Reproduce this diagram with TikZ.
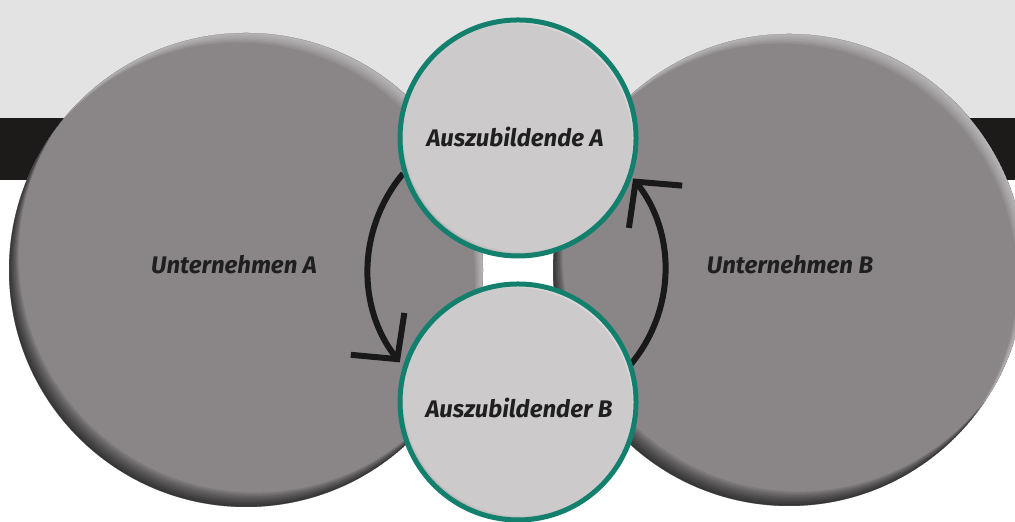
\documentclass[tikz,border=0pt]{standalone}
\usepackage{fontspec}
\setmainfont{Fira Sans}
\usetikzlibrary{arrows.meta,calc,positioning}
\definecolor{bandlight}{RGB}{227,227,227}
\definecolor{banddark}{RGB}{28,27,26}
\definecolor{diskgray}{RGB}{138,134,135}
\definecolor{pillgray}{RGB}{205,202,203}
\definecolor{rimteal}{RGB}{18,128,108}
\tikzset{
  % Company disc: big grey disc, #1 = radius; dark rim lower left, light rim upper right
  firmdisc/.style={circle, inner sep=0pt, minimum size=#1*1pt, fill=diskgray,
    path picture={
      \foreach \k in {1,...,8}
        \fill[black, opacity=0.1, even odd rule]
          (path picture bounding box.center) circle (#1)
          ([shift={(\k*1.2,\k*1.8)}]path picture bounding box.center) circle (#1);
      \foreach \k in {1,...,6}
        \fill[white, opacity=0.08, even odd rule]
          (path picture bounding box.center) circle (#1)
          ([shift={(-\k*1.3,-\k*1.6)}]path picture bounding box.center) circle (#1);
    }},
  % Trainee disc: light disc with teal rim
  traineedisc/.style={circle, inner sep=0pt, minimum size=#1*1pt, fill=pillgray,
    draw=rimteal, line width=2.5pt,
    path picture={
      \foreach \k in {1,...,4}
        \fill[white, opacity=0.18, even odd rule]
          (path picture bounding box.center) circle (#1)
          ([shift={(-\k*0.9,-\k*0.9)}]path picture bounding box.center) circle (#1);
      \foreach \k in {1,...,4}
        \fill[black, opacity=0.04, even odd rule]
          (path picture bounding box.center) circle (#1)
          ([shift={(\k*0.8,\k*1.0)}]path picture bounding box.center) circle (#1);
    }},
  % Labels
  lbl/.style={font=\bfseries\itshape\fontsize{12}{14}\selectfont, text=black!88, inner sep=1pt},
  % Exchange arrows
  swaparr/.style={line width=3pt, draw=black!90,
    -{Straight Barb[length=16pt, width=34pt]}}
}
\begin{document}
\begin{tikzpicture}[x=0.5pt, y=0.5pt]
\useasboundingbox (0,0) rectangle (1015,522);

% ============== BACKGROUND BANDS ==============
\fill[white] (0,0) rectangle (1015,522);
\fill[bandlight] (0,404) rectangle (1015,522);
\fill[banddark] (0,342) rectangle (1015,404);

% ============== COMPANIES ==============
\node[firmdisc=237] (firmA) at (246,252) {};
\node[firmdisc=236] (firmB) at (789,252) {};
\node[lbl] at ($(firmA)+(-12,5)$) {Unternehmen A};
\node[lbl] at ($(firmB)+(1,5)$) {Unternehmen B};

% ============== EXCHANGE CYCLE ==============
\coordinate (hub) at (518,252);
\draw[swaparr] ([shift={(140:150)}]hub) arc[start angle=140, end angle=218, radius=150];
\draw[swaparr] ([shift={(-40:147)}]hub) arc[start angle=-40, end angle=38.5, radius=147];

% ============== TRAINEES ==============
\node[traineedisc=118] (traineeA) at (518,384) {};
\node[traineedisc=118] (traineeB) at (518,120) {};
\node[lbl] at ($(traineeA)+(-3,1)$) {Auszubildende A};
\node[lbl] at ($(traineeB)+(1,-6)$) {Auszubildender B};

\end{tikzpicture}
\end{document}
